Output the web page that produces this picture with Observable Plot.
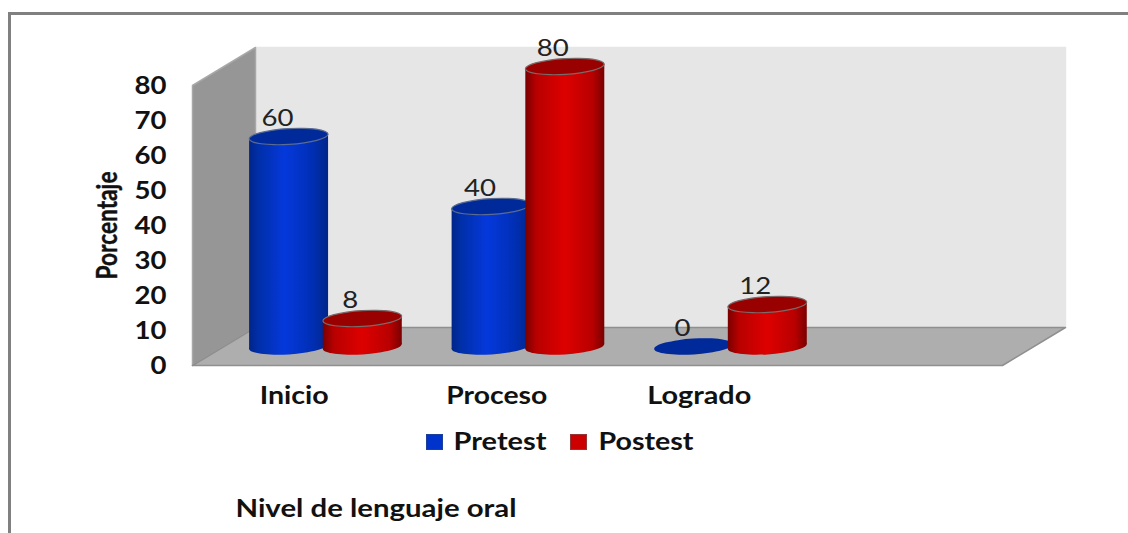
<!DOCTYPE html>
<html><head><meta charset="utf-8">
<script src="https://cdn.jsdelivr.net/npm/d3@7"></script>
<script src="https://cdn.jsdelivr.net/npm/@observablehq/plot@0.6"></script>
<style>
html,body{margin:0;padding:0;background:#fff;overflow:hidden;width:1128px;height:533px}
#wrap{position:relative;width:1128px;height:533px;overflow:hidden}
#border{position:absolute;left:8px;top:12px;width:1200px;height:600px;border:3px solid #808080;box-sizing:content-box}
#chart{position:absolute;left:0;top:0}
#chart svg{background:transparent;display:block}
.sw{position:absolute;width:17px;height:16px;box-sizing:border-box}
</style></head><body>
<div id="wrap"><div id="border"></div><div id="chart"></div>
<div class="sw" style="left:426px;top:434px;background:#0033cc;border:1px solid #1c3f9a"></div>
<div class="sw" style="left:570px;top:434px;background:#cc0000;border:1px solid #953535"></div>
</div>
<script>
const categories = ["Inicio", "Proceso", "Logrado"];
const seriesNames = ["Pretest", "Postest"];
const pretest = [60, 40, 0];
const postest = [8, 80, 12];
const yTicks = [0, 10, 20, 30, 40, 50, 60, 70, 80];
const depthX = 0.311, depthY = 10.86;   // 3D box depth in data units
const xMax = 4, yMax = 80;

const rows = (values, off) => values.map((v, i) => ({v, i, cx: i + 0.5 + off + depthX / 2, base: depthY / 2, top: v + depthY / 2}));
const preRows = rows(pretest, -0.181);
const postRows = rows(postest, 0.183);
const halfW = 0.195, tiltY = 0.69;

const backWall = [[depthX, depthY], [xMax + depthX, depthY], [xMax + depthX, yMax + depthY], [depthX, yMax + depthY]];
const sideWall = [[0, 0], [depthX, depthY], [depthX, yMax + depthY], [0, yMax]];
const floor = [[0, 0], [xMax, 0], [xMax + depthX, depthY], [depthX, depthY]];

// tilted ellipse symbol for the cylinder caps
const tilted = {
  draw(ctx, size) {
    const rx = Math.sqrt(size / Math.PI), ry = rx * 0.2, a = -3.5 * Math.PI / 180, n = 16;
    const k = 4 / 3 * Math.tan(Math.PI / (2 * n));
    const ca = Math.cos(a), sa = Math.sin(a);
    const P = (x, y) => [x * ca - y * sa, x * sa + y * ca];
    for (let i = 0; i < n; i++) {
      const t0 = 2 * Math.PI * i / n, t1 = 2 * Math.PI * (i + 1) / n;
      const c0 = Math.cos(t0), s0 = Math.sin(t0), c1 = Math.cos(t1), s1 = Math.sin(t1);
      const p0 = P(rx * c0, ry * s0);
      if (i === 0) ctx.moveTo(p0[0], p0[1]);
      const b1 = P(rx * (c0 - k * s0), ry * (s0 + k * c0));
      const b2 = P(rx * (c1 + k * s1), ry * (s1 - k * c1));
      const p1 = P(rx * c1, ry * s1);
      ctx.bezierCurveTo(b1[0], b1[1], b2[0], b2[1], p1[0], p1[1]);
    }
    ctx.closePath();
  }
};

const gradient = (id, stops) => () => {
  const svg = d3.create("svg:defs");
  const g = svg.append("linearGradient").attr("id", id).attr("x1", 0).attr("x2", 1).attr("y1", 0).attr("y2", 0);
  stops.forEach(([o, c]) => g.append("stop").attr("offset", o).attr("stop-color", c));
  return svg.node();
};

const R = 39.5;
const bodyPoints = (data) => data.filter(d => d.v > 0).flatMap(d => [
  {z: d.i, x: d.cx - halfW, y: d.base - tiltY},
  {z: d.i, x: d.cx + halfW, y: d.base + tiltY},
  {z: d.i, x: d.cx + halfW, y: d.top + tiltY},
  {z: d.i, x: d.cx - halfW, y: d.top - tiltY}
]);
const cylinder = (data, grad, topColor, edge) => [
  Plot.dot(data.filter(d => d.v > 0), {x: "cx", y: "base", r: R, symbol: tilted, fill: grad, stroke: "none"}),
  Plot.line(bodyPoints(data), {x: "x", y: "y", z: "z", fill: grad, stroke: "none", curve: "linear-closed"}),
  Plot.dot(data.filter(d => d.v > 0), {x: "cx", y: "top", r: R, symbol: tilted, fill: topColor, stroke: edge, strokeWidth: 1.2}),
  Plot.dot(data.filter(d => d.v === 0), {x: "cx", y: "top", r: R, symbol: tilted, fill: topColor, stroke: "none"})
];

const wall = (pts, fill, stroke) => Plot.line(pts, {x: d => d[0], y: d => d[1], fill, stroke, strokeWidth: 1.5, curve: "linear-closed"});
const labelFont = 'Lato,"Open Sans",sans-serif';

const plot = Plot.plot({
  width: 1128, height: 533,
  marginLeft: 192, marginRight: 126, marginTop: 85, marginBottom: 168,
  style: {background: "transparent", overflow: "visible"},
  x: {domain: [0, xMax], axis: null},
  y: {domain: [0, yMax], axis: null},
  marks: [
    gradient("gBlue", [[0, "#00258a"], [0.12, "#002fa8"], [0.45, "#0538dc"], [0.8, "#002fb4"], [1, "#00268a"]]),
    gradient("gRed", [[0, "#7a0000"], [0.14, "#b80000"], [0.5, "#de0000"], [0.85, "#b80000"], [1, "#7a0000"]]),
    wall(backWall, "#e6e6e6", "#e6e6e6"),
    wall(sideWall, "#969696", "#a8a8a8"),
    wall(floor, "#aeaeae", "#8f8f8f"),
    Plot.axisY(yTicks, {anchor: "left", tickSize: 0, tickPadding: 26, label: null, dy: 1, fontSize: 24, fontWeight: "bold", fontFamily: labelFont, fill: "#111"}),
    ...cylinder(preRows, "url(#gBlue)", "#002a9a", "#5a6c90"),
    ...cylinder(postRows, "url(#gRed)", "#990000", "#7a6a6a"),
    Plot.text(preRows, {x: "cx", y: "top", text: d => String(d.v), dx: -11, dy: -18, fontSize: 24, fontFamily: labelFont, fill: "#222"}),
    Plot.text(postRows, {x: "cx", y: "top", text: d => String(d.v), dx: -12, dy: -18, fontSize: 24, fontFamily: labelFont, fill: "#222"}),
    Plot.text(categories, {x: (d, i) => i + 0.5, y: () => 0, text: d => d, dx: 0.5, dy: 31, fontSize: 24, fontWeight: "bold", fontFamily: labelFont, fill: "#111"}),
    Plot.text(["Porcentaje"], {x: () => 0, y: () => 40, text: d => d, dx: -84, rotate: -90, fontSize: 28, fontWeight: "bold", fontFamily: labelFont, fill: "#111", stroke: "#111", strokeWidth: 0.4}),
    Plot.text(["Nivel de lenguaje oral"], {x: () => 0, y: () => 0, text: d => d, dx: 43, dy: 144, textAnchor: "start", fontSize: 24, fontWeight: "bold", fontFamily: labelFont, fill: "#111"}),
    Plot.text([seriesNames[0]], {x: () => 0, y: () => 0, text: d => d, dx: 261, dy: 77, textAnchor: "start", fontSize: 24, fontWeight: "bold", fontFamily: labelFont, fill: "#111"}),
    Plot.text([seriesNames[1]], {x: () => 0, y: () => 0, text: d => d, dx: 406, dy: 77, textAnchor: "start", fontSize: 24, fontWeight: "bold", fontFamily: labelFont, fill: "#111"})
  ]
});
// the reference's type is horizontally stretched: fit each label to its measured width
const fitted = {Inicio: 69, Proceso: 101, Logrado: 104, Pretest: 93, Postest: 95, Porcentaje: 108, "Nivel de lenguaje oral": 281};
d3.select(plot).selectAll("text").each(function () {
  const t = this.textContent;
  const w = fitted[t] ?? (/^\d+$/.test(t) ? 16 * t.length : null);
  if (w) d3.select(this).attr("textLength", w).attr("lengthAdjust", "spacingAndGlyphs");
});
document.getElementById("chart").append(plot);
</script>
</body></html>
